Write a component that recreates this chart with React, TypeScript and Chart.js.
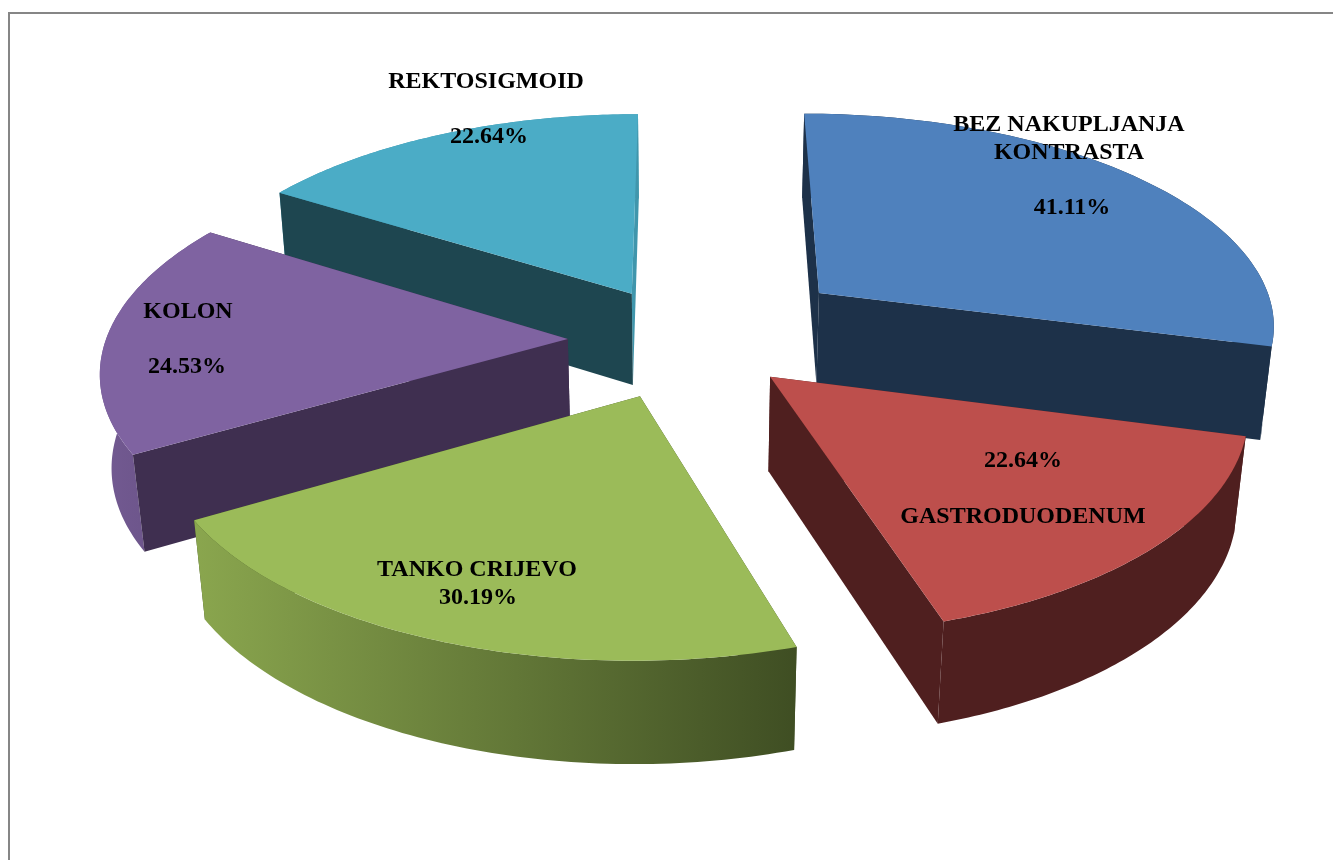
import React, { useEffect, useRef } from "react";
import { Chart, registerables } from "chart.js";

Chart.register(...registerables);

const categories = ["BEZ NAKUPLJANJA KONTRASTA", "GASTRODUODENUM", "TANKO CRIJEVO", "KOLON", "REKTOSIGMOID"];
const seriesValues = [41.11, 22.64, 30.19, 24.53, 22.64];
const topColors = ["#4f81bd", "#bd4f4c", "#9bbb59", "#7f63a1", "#4bacc6"];
const wallColors = ["#1d3149", "#4f1f1f", "#3f4e23", "#3f2f50", "#1e4650"];
const endWallColors = ["#1d3149", "#4f1f1f", "#3f4e23", "#3f2f50", "#4096ac"];
const rimStops = [
  ["#1d3149", "#1d3149"],
  ["#4f1f1f", "#4f1f1f"],
  ["#8aa64e", "#3f4e23"],
  ["#735a92", "#654f82"],
  ["#4096ac", "#4096ac"],
];
const sliceOffsets = [102, 67, 75, 71, 70];

// [text, x, y] of each label line, relative to the canvas
const labelLines: [string, number, number][] = [
  ["REKTOSIGMOID", 476, 68],
  ["22.64%", 479, 123],
  ["BEZ NAKUPLJANJA", 1059, 111],
  ["KONTRASTA", 1059, 139],
  ["41.11%", 1062, 194],
  ["22.64%", 1013, 447],
  ["GASTRODUODENUM", 1013, 503],
  ["TANKO CRIJEVO", 467, 556],
  ["30.19%", 468, 584],
  ["KOLON", 178, 298],
  ["24.53%", 177, 353],
];

// View of the tilted pie: horizontal / depth radius, perspective, thickness
const VIEW = { R: 462, B: 214, K: 0.13, D: 95, C: 0.02 };

const pie3d = {
  id: "pie3d",
  beforeDatasetsDraw(chart: any) {
    const ctx = chart.ctx as CanvasRenderingContext2D;
    const els = chart.getDatasetMeta(0).data as any[];
    const slices = els.map((el, i) => {
      const p = el.getProps(["x", "y", "startAngle", "endAngle", "outerRadius"]);
      const mid = (p.startAngle + p.endAngle) / 2;
      return { i, p, mid, off: el.options.offset / p.outerRadius, color: el.options.backgroundColor };
    });
    slices.sort((a, b) => Math.sin(a.mid) - Math.sin(b.mid));

    for (const s of slices) {
      const { p, mid, off, i } = s;
      const ax = Math.cos(mid) * off;
      const ay = Math.sin(mid) * off;
      const proj = (u: number, v: number, h: number) => {
        const k = 1 / (1 - VIEW.K * v + VIEW.C * h);
        return [p.x + VIEW.R * u * k, p.y + (VIEW.B * v + VIEW.D * h) * k];
      };
      const N = 80;
      const arc: [number, number][] = [];
      for (let n = 0; n <= N; n++) {
        const a = p.startAngle + ((p.endAngle - p.startAngle) * n) / N;
        arc.push([ax + Math.cos(a), ay + Math.sin(a)]);
      }
      const poly = (pts: number[][], fill: any) => {
        ctx.beginPath();
        pts.forEach((q, n) => (n ? ctx.lineTo(q[0], q[1]) : ctx.moveTo(q[0], q[1])));
        ctx.closePath();
        ctx.fillStyle = fill;
        ctx.fill();
      };
      const startWall = () =>
        poly([proj(ax, ay, 0), proj(arc[0][0], arc[0][1], 0), proj(arc[0][0], arc[0][1], 1), proj(ax, ay, 1)], wallColors[i]);
      const endWall = () =>
        poly([proj(ax, ay, 0), proj(arc[N][0], arc[N][1], 0), proj(arc[N][0], arc[N][1], 1), proj(ax, ay, 1)], endWallColors[i]);
      const startFront = -Math.cos(p.startAngle) > 0;
      const endFront = Math.cos(p.endAngle) > 0;
      if (!startFront) startWall();
      if (!endFront) endWall();

      const topArc = arc.map((q) => proj(q[0], q[1], 0));
      const botArc = arc.map((q) => proj(q[0], q[1], 1));
      const xs = topArc.map((q) => q[0]);
      const grad = ctx.createLinearGradient(Math.min(...xs), 0, Math.max(...xs), 0);
      grad.addColorStop(0, rimStops[i][0]);
      grad.addColorStop(1, rimStops[i][1]);
      poly([...topArc, ...botArc.reverse()], grad);

      if (startFront) startWall();
      if (endFront) endWall();
      poly([proj(ax, ay, 0), ...topArc], s.color);
    }
    return false;
  },
  afterDraw(chart: any) {
    const ctx = chart.ctx as CanvasRenderingContext2D;
    ctx.save();
    ctx.font = 'bold 24px "Liberation Serif"';
    ctx.fillStyle = "#000";
    ctx.textAlign = "center";
    ctx.textBaseline = "middle";
    for (const [t, x, y] of labelLines) ctx.fillText(t, x, y);
    ctx.restore();
  },
};

export default function App() {
  const ref = useRef<HTMLCanvasElement>(null);
  useEffect(() => {
    document.documentElement.style.overflow = "hidden";
    const chart = new Chart(ref.current!, {
      type: "pie",
      data: {
        labels: categories,
        datasets: [
          {
            data: seriesValues,
            backgroundColor: topColors,
            offset: sliceOffsets,
            borderWidth: 0,
          },
        ],
      },
      options: {
        responsive: false,
        animation: false,
        rotation: 0,
        layout: { padding: { left: 23, bottom: 194 } },
        plugins: { legend: { display: false }, tooltip: { enabled: false } },
      },
      plugins: [pie3d],
    } as any);
    return () => chart.destroy();
  }, []);
  return (
    <div
      style={{
        marginTop: 4,
        width: 1400,
        height: 846,
        overflow: "hidden",
        borderTop: "2px solid #868686",
        borderLeft: "2px solid #868686",
        background: "#fff",
      }}
    >
      <canvas ref={ref} width={1331} height={846} style={{ display: "block" }} />
    </div>
  );
}
